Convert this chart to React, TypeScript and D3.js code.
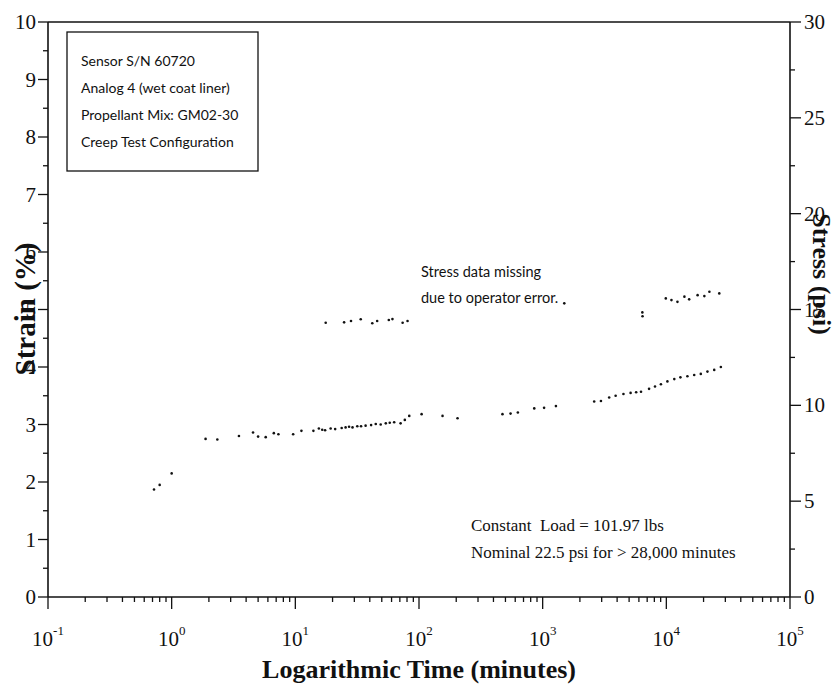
import React from "react";
import * as d3 from "d3";

// Creep test: strain (left axis) and stress (right axis) vs. log time
const strainTime = [0.72, 0.8, 1.0, 1.88, 2.34, 3.5, 4.55, 5.0, 5.76, 6.7, 7.3, 9.6, 11.2, 14, 15.5, 16.5, 17.4, 19.3, 21, 23.7, 25.5, 27.2, 29, 31.7, 34, 37, 41, 44.7, 49, 53.9, 58, 63, 71, 76.8, 83.4, 105, 155, 205, 473, 550, 630, 855, 1027, 1280, 2610, 2960, 3450, 3890, 4500, 5140, 5700, 6240, 7250, 8100, 9040, 10200, 11600, 13000, 14800, 16800, 19000, 21500, 24400, 27600];
const strainPct = [1.87, 1.95, 2.15, 2.75, 2.74, 2.8, 2.86, 2.79, 2.78, 2.85, 2.83, 2.83, 2.89, 2.89, 2.93, 2.91, 2.9, 2.93, 2.92, 2.94, 2.95, 2.96, 2.95, 2.97, 2.97, 2.98, 2.99, 3.01, 3.0, 3.02, 3.03, 3.04, 3.02, 3.08, 3.15, 3.18, 3.15, 3.11, 3.18, 3.19, 3.21, 3.28, 3.29, 3.32, 3.4, 3.41, 3.47, 3.5, 3.53, 3.55, 3.56, 3.57, 3.62, 3.66, 3.7, 3.75, 3.79, 3.82, 3.84, 3.86, 3.88, 3.92, 3.95, 4.0];

const stressTime = [17.6, 24.8, 28.2, 33.8, 41.9, 45.9, 57, 61, 73.7, 80.8, 1496, 6400, 6420, 9900, 11000, 12300, 14000, 15300, 17900, 20300, 22300, 26800];
const stressPsi = [14.31, 14.33, 14.4, 14.49, 14.28, 14.4, 14.45, 14.5, 14.31, 14.4, 15.32, 14.85, 14.65, 15.58, 15.49, 15.4, 15.67, 15.53, 15.75, 15.7, 15.93, 15.84];

const xDecades = [-1, 0, 1, 2, 3, 4, 5];
const strainTicks = [0, 1, 2, 3, 4, 5, 6, 7, 8, 9, 10];
const stressTicks = [0, 5, 10, 15, 20, 25, 30];

const infoLines = ["Sensor S/N 60720", "Analog 4 (wet coat liner)", "Propellant Mix: GM02-30", "Creep Test Configuration"];
const noteLines = ["Stress data missing", "due to operator error."];
const loadLines = ["Constant  Load = 101.97 lbs", "Nominal 22.5 psi for > 28,000 minutes"];

const W = 838;
const H = 690;
const left = 48;
const right = 790;
const top = 22;
const bottom = 597;

const serif = "'Liberation Serif', 'Times New Roman', serif";
const humanist = "Lato, 'Open Sans', sans-serif";

export default function App() {
  const x = d3.scaleLog().domain([0.1, 1e5]).range([left, right]);
  const yL = d3.scaleLinear().domain([0, 10]).range([bottom, top]);
  const yR = d3.scaleLinear().domain([0, 30]).range([bottom, top]);

  const minorX: number[] = [];
  for (let e = -1; e < 5; e++) {
    for (let m = 2; m <= 9; m++) minorX.push(m * Math.pow(10, e));
  }
  const minorL = d3.range(0.5, 10, 1);
  const minorR = d3.range(2.5, 30, 5);

  return (
    <svg width={W} height={H} viewBox={`0 0 ${W} ${H}`} style={{ position: "absolute", left: 0, top: 0, background: "#fff" }}>
      <rect x={0} y={0} width={W} height={H} fill="#fff" />
      {/* frame */}
      <g stroke="#111" strokeWidth={1.6} fill="none">
        <line x1={left} y1={top} x2={right} y2={top} />
        <line x1={left} y1={top} x2={left} y2={bottom} />
        <line x1={right} y1={top} x2={right} y2={bottom} />
        <line x1={left} y1={bottom} x2={right} y2={bottom} />
      </g>

      {/* x axis ticks */}
      <g stroke="#111" strokeWidth={1.3}>
        {xDecades.map((d) => (
          <line key={"xM" + d} x1={x(Math.pow(10, d))} x2={x(Math.pow(10, d))} y1={bottom} y2={bottom + 12} />
        ))}
        {minorX.map((v, i) => (
          <line key={"xm" + i} x1={x(v)} x2={x(v)} y1={bottom} y2={bottom + 5} />
        ))}
      </g>
      <g fontFamily={serif} fontSize={21} fill="#111" textAnchor="middle">
        {xDecades.map((d) => (
          <text key={"xl" + d} x={x(Math.pow(10, d))} y={646}>
            10
            <tspan fontSize={13} dy={-11}>{d}</tspan>
          </text>
        ))}
      </g>
      <text x={(left + right) / 2} y={678} textAnchor="middle" fontFamily={serif} fontWeight="bold" fontSize={26} fill="#111">
        Logarithmic Time (minutes)
      </text>

      {/* left strain axis */}
      <g stroke="#111" strokeWidth={1.3}>
        {strainTicks.map((t) => (
          <line key={"lM" + t} x1={left - 10} x2={left} y1={yL(t)} y2={yL(t)} />
        ))}
        {minorL.map((t) => (
          <line key={"lm" + t} x1={left - 5} x2={left} y1={yL(t)} y2={yL(t)} />
        ))}
      </g>
      <g fontFamily={serif} fontSize={21} fill="#111" textAnchor="end">
        {strainTicks.map((t) => (
          <text key={"ll" + t} x={36} y={yL(t) + 7}>{t}</text>
        ))}
      </g>
      <text transform="translate(35,309) rotate(-90)" textAnchor="middle" fontFamily={serif} fontWeight="bold" fontSize={29} fill="#111">
        Strain (%)
      </text>

      {/* right stress axis */}
      <g stroke="#111" strokeWidth={1.3}>
        {stressTicks.map((t) => (
          <line key={"rM" + t} x1={right} x2={right + 11} y1={yR(t)} y2={yR(t)} />
        ))}
        {minorR.map((t) => (
          <line key={"rm" + t} x1={right} x2={right + 5} y1={yR(t)} y2={yR(t)} />
        ))}
      </g>
      <g fontFamily={serif} fontSize={21} fill="#111" textAnchor="start">
        {stressTicks.map((t) => (
          <text key={"rl" + t} x={804} y={yR(t) + 7}>{t}</text>
        ))}
      </g>
      <text transform="translate(813,274) rotate(90)" textAnchor="middle" fontFamily={serif} fontWeight="bold" fontSize={26} fill="#111">
        Stress (psi)
      </text>

      {/* data */}
      <g fill="#111">
        {strainTime.map((t, i) => (
          <circle key={"s" + i} cx={x(t)} cy={yL(strainPct[i])} r={1.3} />
        ))}
        {stressTime.map((t, i) => (
          <circle key={"p" + i} cx={x(t)} cy={yR(stressPsi[i])} r={1.3} />
        ))}
      </g>

      {/* info box */}
      <rect x={67} y={32} width={191} height={139} fill="#fff" stroke="#111" strokeWidth={1.3} />
      <g fontFamily={humanist} fontSize={14} fill="#111">
        {infoLines.map((s, i) => (
          <text key={"i" + i} x={81} y={66 + i * 27}>{s}</text>
        ))}
      </g>

      <g fontFamily={humanist} fontSize={14.5} fill="#111">
        {noteLines.map((s, i) => (
          <text key={"n" + i} x={421} y={277 + i * 26}>{s}</text>
        ))}
      </g>

      <g fontFamily={serif} fontSize={17} fill="#111">
        {loadLines.map((s, i) => (
          <text key={"c" + i} x={471} y={531 + i * 27} style={{ whiteSpace: "pre" }}>{s}</text>
        ))}
      </g>
    </svg>
  );
}
